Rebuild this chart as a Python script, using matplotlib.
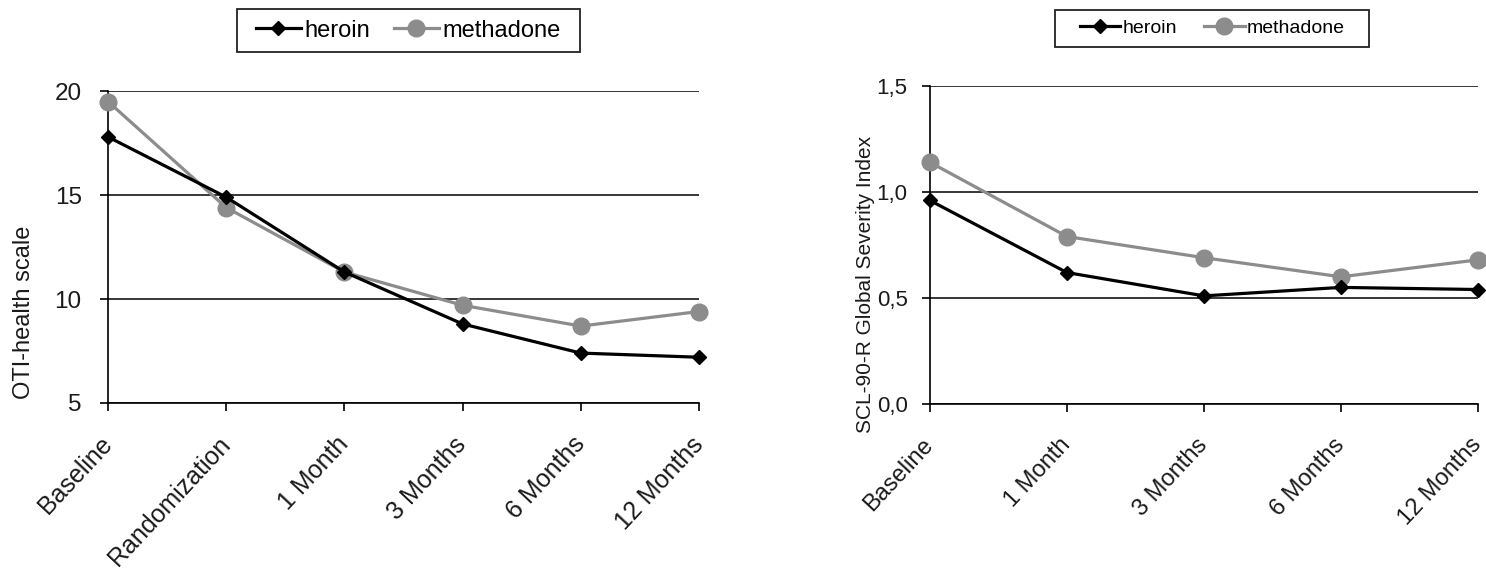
import matplotlib.pyplot as plt
from matplotlib.patches import Rectangle
from matplotlib.ticker import FuncFormatter

plt.rcParams['font.family'] = ['Liberation Sans', 'DejaVu Sans']

# data
cats_oti = ['Baseline', 'Randomization', '1 Month', '3 Months', '6 Months', '12 Months']
heroin_oti = [17.8, 14.9, 11.3, 8.8, 7.4, 7.2]
methadone_oti = [19.5, 14.4, 11.3, 9.7, 8.7, 9.4]

cats_scl = ['Baseline', '1 Month', '3 Months', '6 Months', '12 Months']
heroin_scl = [0.96, 0.62, 0.51, 0.55, 0.54]
methadone_scl = [1.14, 0.79, 0.69, 0.60, 0.68]

txt = '#1a1a1a'
grey = '#8c8c8c'
W, H = 1486, 577

fig = plt.figure(figsize=(14.86, 5.77), dpi=100)
ax1 = fig.add_axes([0.0727, 0.3016, 0.3977, 0.5404])
ax2 = fig.add_axes([0.6258, 0.2998, 0.3688, 0.5512])


def style(ax, cats, fs_x, fs_y, ypad):
    for s in ['top', 'right']:
        ax.spines[s].set_visible(False)
    ax.spines['left'].set_linewidth(1.2)
    ax.spines['bottom'].set_linewidth(1.2)
    ax.set_xlim(0, len(cats) - 1)
    ax.set_xticks(range(len(cats)))
    ax.set_xticklabels(cats, rotation=47, ha='right', va='center',
                       rotation_mode='anchor', fontsize=fs_x, color=txt)
    ax.tick_params(axis='both', direction='out', length=6, width=1.2, colors='black',
                   labelcolor=txt)
    ax.tick_params(axis='x', pad=21)
    ax.tick_params(axis='y', labelsize=fs_y, pad=ypad)
    ax.yaxis.grid(True, color='black', linewidth=1.1)
    ax.set_axisbelow(True)


def draw(ax, cats, her, met):
    ax.plot(range(len(cats)), met, color=grey, lw=2.3, marker='o', ms=12,
            label='methadone', zorder=3, clip_on=False)
    ax.plot(range(len(cats)), her, color='black', lw=2.3, marker='D', ms=7.5,
            label='heroin', zorder=4, clip_on=False)


def legend_box(x0, y0, x1, y1):
    # frame of the legend, in figure pixels from the top-left
    fig.patches.append(Rectangle((x0 / W, 1 - y1 / H), (x1 - x0) / W, (y1 - y0) / H,
                                 transform=fig.transFigure, fill=False,
                                 edgecolor='#222222', linewidth=1.3))


# left panel
draw(ax1, cats_oti, heroin_oti, methadone_oti)
ax1.set_ylim(5, 20)
ax1.set_yticks([5, 10, 15, 20])
style(ax1, cats_oti, 18, 17.5, 13)
ax1.set_ylabel('OTI-health scale', fontsize=17, color=txt)
ax1.yaxis.set_label_coords(-0.124, 0.29)
h, l = ax1.get_legend_handles_labels()
ax1.legend(h[::-1], l[::-1], loc='center', bbox_to_anchor=(0.508, 1.194), ncol=2,
           fontsize=17, frameon=False, handlelength=1.9, handletextpad=0.15,
           columnspacing=1.0, borderpad=0.3)
legend_box(237, 9, 580, 52)

# right panel
draw(ax2, cats_scl, heroin_scl, methadone_scl)
ax2.set_ylim(0, 1.5)
ax2.set_yticks([0, 0.5, 1.0, 1.5])
ax2.yaxis.set_major_formatter(FuncFormatter(lambda v, p: f'{v:.1f}'.replace('.', ',')))
style(ax2, cats_scl, 17, 16, 10)
ax2.set_ylabel('SCL-90-R Global Severity Index', fontsize=15, color=txt)
ax2.yaxis.set_label_coords(-0.10, 0.377)
h, l = ax2.get_legend_handles_labels()
ax2.legend(h[::-1], l[::-1], loc='center', bbox_to_anchor=(0.515, 1.181), ncol=2,
           fontsize=14, frameon=False, handlelength=2.1, handletextpad=0.1,
           columnspacing=1.4, borderpad=0.3)
legend_box(1055, 10, 1369, 47)

fig.savefig('out.png', dpi=100)
